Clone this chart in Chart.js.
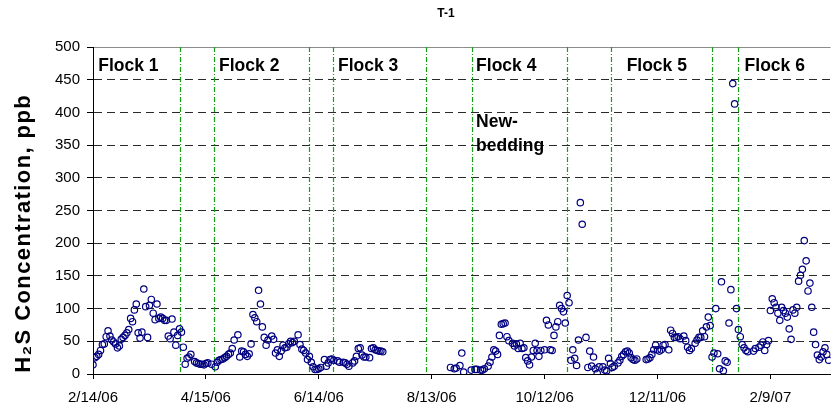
<!DOCTYPE html>
<html>
<head>
<meta charset="utf-8">
<script src="https://cdn.jsdelivr.net/npm/chart.js@4.4.1/dist/chart.umd.min.js"></script>
<style>
  html, body { margin: 0; padding: 0; background: #ffffff; }
  #wrap { width: 835px; height: 409px; position: relative; }
</style>
</head>
<body>
<div id="wrap"><canvas id="chart"></canvas></div>
<script>
// House T-1: daily H2S readings, one entry per day starting 2/14/06 (null = no reading)
const chartTitle = 'T-1';
const yAxisTitle = 'H\u2082S Concentration, ppb';
const dailyH2S = [
  14, 25, 27, 30, 36, 45, 46, 57, 66, 58,
  52, 49, 46, 40, 43, 53, 56, 59, 63, 68,
  85, 80, 98, 107, 63, 55, 64, 130, 103, 56,
  105, 114, 93, 83, 107, 85, 87, 85, 82, 82,
  58, 54, 84, 64, 44, 59, 69, 64, 41, 15,
  24, 26, 30, null, 19, 17, 16, 15, 15, 14,
  16, 17, null, 15, null, 11, 18, 21, 22, 23,
  25, 27, 30, 32, 39, 52, null, 60, 26, 35,
  34, 30, 27, 31, 46, 91, 86, 80, 128, 107,
  72, 56, 44, 52, null, 58, 53, 32, 37, 27,
  35, 44, 40, 41, 46, 50, 48, 50, null, 60,
  45, 38, 36, 32, 22, 27, 18, 11, 7, 7,
  8, 10, null, 22, 12, 17, 22, 23, 21, null,
  20, 18, null, 18, 17, 15, 12, null, 17, 20,
  27, 39, 40, 29, 26, 26, null, 25, 39, 40,
  37, 36, 35, 35, 34, null, null, null, null, null,
  null, null, null, null, null, null, null, null, null, null,
  null, null, null, null, null, null, null, null, null, null,
  null, null, null, null, null, null, null, null, null, null,
  10, null, 8, 9, null, 13, 32, 3, null, null,
  null, 6, null, 7, 7, null, 6, 6, 8, null,
  12, 18, 26, 37, 35, 30, 59, 76, 77, 78,
  57, 51, null, 47, 43, 46, 39, 47, 39, 40,
  25, 20, 14, 26, 36, 47, 36, 27, 36, null,
  37, 82, 75, 37, 36, 59, 72, 80, 105, 100,
  95, 78, 120, 109, 21, 37, 24, 13, 52, 262,
  229, null, 56, 10, 35, 12, 26, 8, 1, 11,
  null, 11, 6, 5, 24, 16, 10, 12, null, 17,
  21, 27, 30, 34, 35, 32, 25, 22, 21, 23,
  null, null, null, null, 22, 23, 25, 30, 37, 44,
  37, 35, 37, 44, 45, null, 37, 67, 62, 56,
  56, 57, 54, null, 58, 51, 41, 36, 39, null,
  47, 52, 56, 56, 66, 57, 72, 87, 74, 26,
  32, 100, 31, 8, 141, 5, 20, 18, 78, 129,
  444, 413, 100, 68, 57, 45, 40, 36, 34, null,
  null, 35, 39, null, 41, 44, 49, 36, 45, 51,
  97, 115, 109, 102, 93, 82, 102, 97, 93, 87,
  69, 53, 98, 93, 102, 142, 151, 160, 204, 173,
  127, 139, 102, 64, 45, 29, 22, 26, 34, 40,
  30, 21
];

// x axis: days since 2/14/06, labelled every 60 days
const xTickDays = [0, 60, 120, 180, 240, 300, 360];
const xTickLabels = ['2/14/06', '4/15/06', '6/14/06', '8/13/06', '10/12/06', '12/11/06', '2/9/07'];
const lastDay = 392;

// flock placements / removals (days since 2/14/06)
const flockChangeDays = [46.5, 64.5, 115, 127.5, 177, 201.5, 252, 275.5, 329, 343];
const flockLabels = ['Flock 1', 'Flock 2', 'Flock 3', 'Flock 4', 'Flock 5', 'Flock 6'];
const flockLabelDays = [2.8, 67, 130.2, 203.6, 283.6, 346.3];
const beddingNote = ['New-', 'bedding'];

const FONT = '"Liberation Sans", Arial, Helvetica, sans-serif';

const points = [];
dailyH2S.forEach((v, day) => { if (v !== null) points.push({ x: day, y: v }); });

// flock boundaries, flock names and the bedding note, placed in data units
const flockMarks = {
  id: 'flockMarks',
  beforeDatasetsDraw(chart) {
    const { ctx, chartArea: area, scales: { x, y } } = chart;
    ctx.save();
    ctx.strokeStyle = '#17a017';
    ctx.lineWidth = 1.2;
    ctx.setLineDash([5, 2, 1, 2]);
    flockChangeDays.forEach(d => {
      const px = Math.round(x.getPixelForValue(d)) + 0.5;
      ctx.beginPath();
      ctx.moveTo(px, area.top);
      ctx.lineTo(px, area.bottom);
      ctx.stroke();
    });
    ctx.setLineDash([]);
    ctx.fillStyle = '#000';
    ctx.font = 'bold 17.5px ' + FONT;
    ctx.textAlign = 'left';
    ctx.textBaseline = 'alphabetic';
    flockLabels.forEach((t, i) => {
      ctx.fillText(t, x.getPixelForValue(flockLabelDays[i]), y.getPixelForValue(464));
    });
    ctx.fillText(beddingNote[0], x.getPixelForValue(flockLabelDays[3]), y.getPixelForValue(378));
    ctx.fillText(beddingNote[1], x.getPixelForValue(flockLabelDays[3]), y.getPixelForValue(341));
    ctx.restore();
  },
  afterDraw(chart) {
    const { ctx, scales: { y } } = chart;
    ctx.save();
    ctx.fillStyle = '#000';
    // chart title
    ctx.font = 'bold 12px ' + FONT;
    ctx.textAlign = 'center';
    ctx.textBaseline = 'middle';
    ctx.fillText(chartTitle, 446, 14);
    // vertical axis title
    ctx.translate(24, y.getPixelForValue(215));
    ctx.rotate(-Math.PI / 2);
    ctx.font = 'bold 22px ' + FONT;
    if ('letterSpacing' in ctx) ctx.letterSpacing = '1.4px';
    ctx.fillText(yAxisTitle, 0, 0);
    ctx.restore();
  }
};

new Chart(document.getElementById('chart'), {
  type: 'scatter',
  data: {
    datasets: [{
      data: points,
      showLine: false,
      pointStyle: 'circle',
      pointRadius: 3.2,
      pointHoverRadius: 3.2,
      pointBorderWidth: 1.2,
      borderColor: '#000080',
      backgroundColor: 'rgba(0,0,0,0)'
    }]
  },
  options: {
    responsive: true,
    maintainAspectRatio: false,
    animation: false,
    devicePixelRatio: 1,
    layout: { padding: { top: 47, left: 0, right: 0, bottom: 0 } },
    plugins: {
      legend: { display: false },
      tooltip: { enabled: false },
      title: { display: false }
    },
    scales: {
      x: {
        type: 'linear',
        min: 0,
        max: lastDay,
        afterBuildTicks: s => { s.ticks = xTickDays.map(v => ({ value: v })); },
        afterFit: s => { s.height = 35; },
        ticks: {
          autoSkip: false,
          maxRotation: 0,
          padding: 10,
          color: '#000',
          font: { family: FONT, size: 15 },
          callback: v => {
            const i = xTickDays.indexOf(v);
            return i >= 0 ? xTickLabels[i] : '';
          }
        },
        grid: { drawOnChartArea: false, tickLength: 5, tickColor: '#000', color: '#000' },
        border: { color: '#000', width: 1 }
      },
      y: {
        min: 0,
        max: 500,
        afterFit: s => { s.width = 93; },
        ticks: {
          stepSize: 50,
          padding: 7,
          color: '#000',
          font: { family: FONT, size: 15 }
        },
        grid: {
          color: c => (c.tick && c.tick.value === 500) ? '#8c8c8c'
                    : (c.tick && c.tick.value === 0) ? 'rgba(0,0,0,0)' : '#2a2a2a',
          lineWidth: 1,
          tickLength: 6,
          tickColor: '#000'
        },
        border: {
          color: '#000',
          width: 1,
          dash: c => (c.type === 'tick' && c.tick && c.tick.value !== 500) ? [8, 5] : []
        }
      }
    }
  },
  plugins: [flockMarks]
});
</script>
</body>
</html>
